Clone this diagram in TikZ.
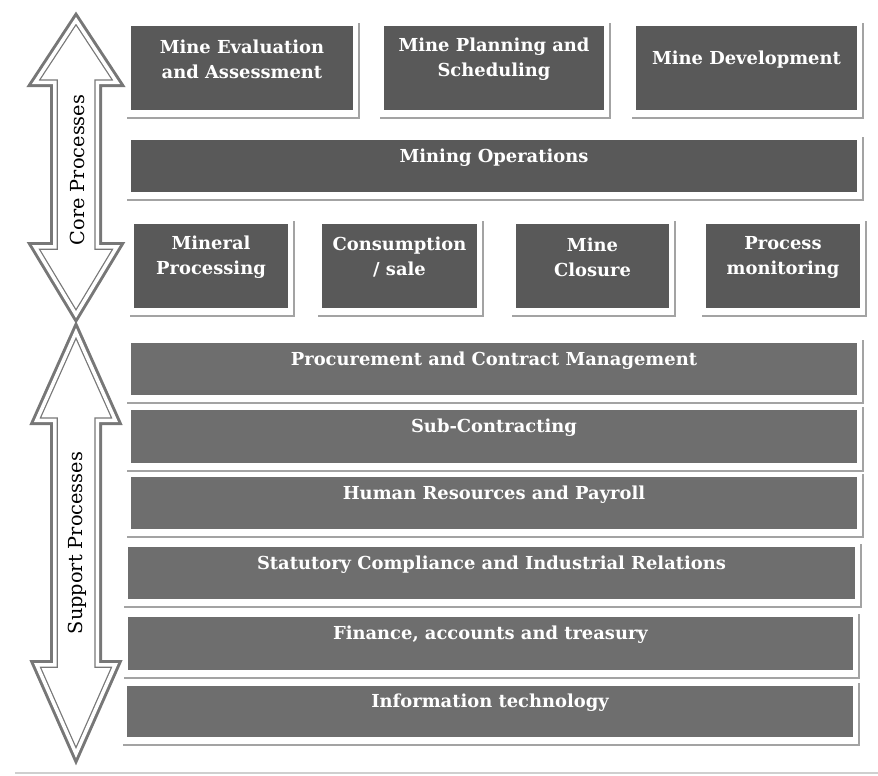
\documentclass[tikz,border=0pt]{standalone}
\usepackage{fontspec}
\setmainfont{DejaVu Serif}
\definecolor{coregray}{HTML}{595959}
\definecolor{supgray}{HTML}{6E6E6E}
\definecolor{shadowgray}{HTML}{A3A3A3}
\definecolor{arrowgray}{HTML}{777777}
\definecolor{rulegray}{HTML}{CFCFCF}
\tikzset{
  corebox/.style={rectangle, fill=coregray, inner sep=0pt, outer sep=0pt},
  supbox/.style={rectangle, fill=supgray, inner sep=0pt, outer sep=0pt},
  shadowline/.style={draw=shadowgray, line width=2.6pt},
  boxtext/.style={text=white, align=center, font=\bfseries\fontsize{17.9}{25}\selectfont, inner sep=0pt},
  sidetext/.style={rotate=90, text=black, font=\fontsize{19.3}{20}\selectfont, inner sep=0pt}
}
\newcommand\mybox[7]{%
  \node[#6, minimum width={#4-#2}, minimum height={#5-#3}] (#1) at ({(#2+#4)/2},{(#3+#5)/2}) {};
  \draw[shadowline] ([xshift=-4pt,yshift=-8pt]#1.south west) -- ([xshift=6pt,yshift=-8pt]#1.south east) -- ([xshift=6pt,yshift=3pt]#1.north east);
  \node[boxtext] (#1t) at ([yshift=8.5pt]#1.center) {#7};
}
\newcommand\fancyarrow[1]{%
  \fill[white] #1;
  \draw[arrowgray, line width=6pt, line join=miter] #1;
  \begin{scope}
    \clip #1;
    \draw[arrowgray, line width=9.5pt, line join=miter] #1;
    \draw[white, line width=7pt, line join=miter] #1;
  \end{scope}
}
\begin{document}
\begin{tikzpicture}[x=1pt,y=-1pt]
\useasboundingbox (0,0) rectangle (878,776);
% arrows
\fancyarrow{(76,17) -- (120,84) -- (99,84) -- (99,245) -- (120,245) -- (76,318) -- (32,245) -- (53,245) -- (53,84) -- (32,84) -- cycle}
\fancyarrow{(76,328) -- (118,422) -- (99,422) -- (99,663) -- (118,663) -- (76,758) -- (34,663) -- (53,663) -- (53,422) -- (34,422) -- cycle}
\node[sidetext] (coreLabel) at (77,170) {Core Processes};
\node[sidetext] (supLabel) at (77,543) {Support Processes};
% core boxes
\mybox{b1}{131}{26}{353}{110}{corebox}{Mine Evaluation\\and Assessment}
\mybox{b2}{384}{26}{604}{110}{corebox}{Mine Planning and\\Scheduling}
\mybox{b3}{636}{26}{857}{110}{corebox}{Mine Development}
\mybox{ops}{131}{140}{857}{192}{corebox}{Mining Operations}
\mybox{c1}{134}{224}{288}{308}{corebox}{Mineral\\Processing}
\mybox{c2}{322}{224}{477}{308}{corebox}{Consumption\\/ sale}
\mybox{c3}{516}{224}{669}{308}{corebox}{Mine\\Closure}
\mybox{c4}{706}{224}{860}{308}{corebox}{Process\\monitoring}
% support boxes
\mybox{s1}{131}{343}{857}{395}{supbox}{Procurement and Contract Management}
\mybox{s2}{131}{410}{857}{463}{supbox}{Sub-Contracting}
\mybox{s3}{131}{477}{857}{529}{supbox}{Human Resources and Payroll}
\mybox{s4}{128}{547}{855}{599}{supbox}{Statutory Compliance and Industrial Relations}
\mybox{s5}{128}{617}{853}{670}{supbox}{Finance, accounts and treasury}
\mybox{s6}{127}{686}{853}{737}{supbox}{Information technology}
% bottom rule
\coordinate (ruleL) at (15,773);
\coordinate (ruleR) at (878,773);
\draw[rulegray, line width=1.5pt] (ruleL) -- (ruleR);
\end{tikzpicture}
\end{document}
